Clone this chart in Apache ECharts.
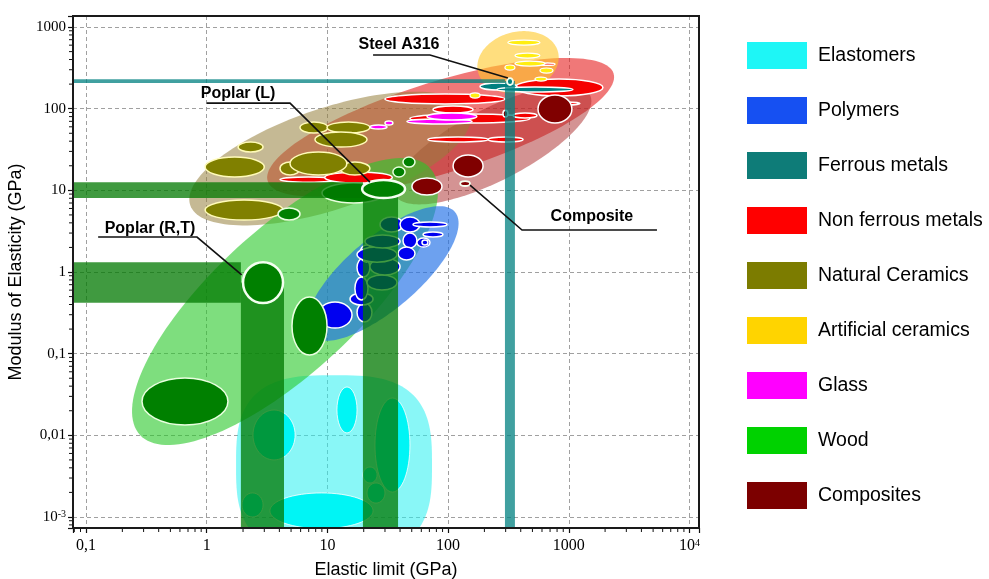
<!DOCTYPE html>
<html>
<head>
<meta charset="utf-8">
<script src="https://cdn.jsdelivr.net/npm/echarts@6/dist/echarts.min.js"></script>
<style>
  html, body { margin: 0; padding: 0; background: #fff; }
  #chart { width: 989px; height: 579px; }
</style>
</head>
<body>
<div id="chart"></div>
<script>
// ---- Axis extents and tick labels (GPa, log scales) ----
const xMin = 0.078, xMax = 12000;
const yMin = 0.000733, yMax = 1365;
const xTickExps = [-1, 0, 1, 2, 3, 4];
const xTickLabels = ['0,1', '1', '10', '100', '1000', '10{sup|4}'];
const yTickExps = [-3, -2, -1, 0, 1, 2, 3];
const yTickLabels = ['10{sup|-3}', '0,01', '0,1', '1', '10', '100', '1000'];

// ---- Material classes (legend order) ----
const classNames = ['Elastomers', 'Polymers', 'Ferrous metals', 'Non ferrous metals',
  'Natural Ceramics', 'Artificial ceramics', 'Glass', 'Wood', 'Composites'];

// ---- Class envelopes: major axis end points [x1, y1, x2, y2] and spread (decades) ----
const envelopeClass = ['Non ferrous metals', 'Composites', 'Natural Ceramics', 'Elastomers',
  'Artificial ceramics', 'Wood', 'Polymers'];
const envelopeAxis = [
  [3.2, 13.0, 2350, 270],
  [36.3, 8.76, 1499, 147],
  [0.73, 6.6, 152, 91],
  [1.75, 0.00433, 73.6, 0.00433],
  [177, 281, 815, 494],
  [0.28, 0.0101, 70.8, 18.8],
  [7.18, 0.169, 114, 5.43]
];
const envelopeSpread = [0.56, 0.44, 0.62, 1.1, 0.37, 0.88, 0.44];

// ---- Individual materials: [E min, E max, modulus min, modulus max] ----
const elastomers = [
  [3.34, 23.9, 0.00072, 0.00197],
  [24.8, 48.3, 0.00202, 0.0286],
  [12.0, 17.6, 0.0107, 0.0391],
  [2.42, 5.4, 0.0050, 0.0204],
  [1.96, 2.93, 0.0010, 0.00197],
  [19.7, 25.8, 0.00261, 0.00409],
  [21.3, 30.0, 0.00148, 0.00261]
];
const polymers = [
  [8.36, 16.0, 0.206, 0.429],
  [17.6, 23.4, 0.244, 0.417],
  [15.4, 23.9, 0.394, 0.553],
  [16.9, 21.7, 0.454, 0.869],
  [17.6, 22.5, 0.869, 1.48],
  [21.3, 37.7, 0.602, 0.919],
  [22.5, 40.0, 0.919, 1.48],
  [18.6, 23.9, 1.32, 2.14],
  [17.6, 37.7, 1.32, 2.02],
  [20.5, 40.0, 1.97, 2.84],
  [27.3, 42.3, 3.09, 4.71],
  [40.0, 58.5, 3.09, 4.71],
  [42.3, 55.2, 1.97, 3.0],
  [55.2, 70.8, 2.02, 2.61],
  [38.5, 53.2, 1.40, 2.02],
  [51.2, 98, 3.56, 4.09],
  [62, 90.7, 2.68, 3.09],
  [60.8, 68.1, 2.14, 2.46]
];
const nonFerrous = [
  [4.05, 12.0, 12.6, 14.6],
  [9.5, 34.5, 12.3, 16.8],
  [30.0, 296, 114, 151],
  [75, 161, 88.5, 108],
  [48.3, 477, 66.7, 86.0],
  [68, 215, 39.1, 45.0],
  [215, 418, 39.1, 45.0],
  [358, 1919, 143, 231],
  [740, 1238, 111, 121],
  [345, 546, 76.9, 88.5],
  [577, 769, 340, 362]
];
const naturalCeramics = [
  [4.05, 5.93, 15.4, 22.2],
  [12.7, 22.5, 15.4, 22.2],
  [4.9, 14.5, 15.4, 29.5],
  [0.97, 3.0, 14.6, 25.6],
  [1.82, 2.93, 29.5, 39.1],
  [0.97, 4.29, 4.33, 7.61],
  [5.93, 10.1, 50.3, 68.7],
  [9.93, 22.5, 50.3, 68.7],
  [7.89, 21.3, 33.9, 51.8]
];
const wood = [
  [3.9, 5.93, 4.33, 6.08],
  [9.02, 30.0, 7.0, 12.3],
  [42.3, 53.2, 19.3, 25.6],
  [34.9, 44.0, 14.6, 19.3],
  [5.09, 9.93, 0.0963, 0.494],
  [0.291, 1.50, 0.0134, 0.0504]
];
const glass = [
  [45.6, 158, 64.9, 74.7],
  [66.9, 173, 72.6, 88.5],
  [22.5, 31.2, 56.4, 63.1],
  [30, 34.9, 63.1, 70.5]
];
const ferrous = [
  [184, 372, 169, 206],
  [254, 1083, 160, 184]
];
const composites = [
  [556, 1062, 66.7, 147],
  [110, 195, 14.6, 27.1],
  [50.2, 89, 8.76, 14.2],
  [285, 313, 79, 96]
];
const artificialCeramics = [
  [313, 577, 601, 693],
  [358, 577, 417, 480],
  [358, 635, 333, 383],
  [296, 358, 297, 343],
  [577, 740, 273, 315],
  [525, 659, 218, 244],
  [152, 184, 135, 156]
];

// ---- Highlighted specimens ----
const specimenNames = ['Poplar (R,T)', 'Poplar (L)', 'Steel A316', 'Composite'];
const specimenClass = ['Wood', 'Wood', 'Ferrous metals', 'Composites'];
const specimenRange = [
  [2.0, 4.29, 0.417, 1.32],
  [19.4, 44.0, 8.05, 13.4],
  [308, 345, 195, 237],
  [126, 152, 11.3, 13.0]
];
// reading bands through the first three specimens: [x band], [y band]
const bandX = [[1.92, 4.37], [19.7, 38.5], [296, 358]];
const bandY = [[0.42, 1.32], [8.05, 12.6], [206, 230]];

// ---- Callouts: text anchor and leader path ----
const calloutText = ['Poplar (R,T)', 'Poplar (L)', 'Steel A316', 'Composite'];
const calloutAnchor = [[0.339, 3.36], [1.82, 151], [39.2, 601], [1556, 4.71]];
const calloutPath = [
  [[0.126, 2.68], [0.831, 2.68], [1.95, 0.92]],
  [[1.0, 117], [4.9, 117], [22.5, 12.6]],
  [[23.9, 454], [70.8, 454], [313, 237]],
  [[5383, 3.27], [410, 3.27], [152, 11.6]]
];

// ---- Styles ----
const legendColor = {
  'Elastomers': '#1ef6f6', 'Polymers': '#1650f2', 'Ferrous metals': '#0e7c78',
  'Non ferrous metals': '#ff0000', 'Natural Ceramics': '#7c7c00', 'Artificial ceramics': '#ffd400',
  'Glass': '#ff00ff', 'Wood': '#00d200', 'Composites': '#7c0000'
};
const memberStyle = {
  'Elastomers': { fill: '#00f5f5', stroke: 'rgba(255,255,255,0.8)', lw: 1 },
  'Polymers': { fill: '#0000f0', stroke: '#ffffff', lw: 1.5 },
  'Ferrous metals': { fill: '#008080', stroke: '#ffffff', lw: 1.5 },
  'Non ferrous metals': { fill: '#f50000', stroke: '#ffffff', lw: 1.5 },
  'Natural Ceramics': { fill: '#808000', stroke: '#fffbb8', lw: 1.5 },
  'Artificial ceramics': { fill: '#ffee10', stroke: '#ffffff', lw: 1.2 },
  'Glass': { fill: '#ff00ff', stroke: '#ffffff', lw: 1.5 },
  'Wood': { fill: '#008000', stroke: '#eaffe0', lw: 1.5 },
  'Composites': { fill: '#800000', stroke: '#ffffff', lw: 1.5 }
};
const envelopeStyle = {
  'Non ferrous metals': { fill: 'rgba(230,30,30,0.6)', n: 2 },
  'Composites': { fill: 'rgba(170,40,40,0.5)', n: 2 },
  'Natural Ceramics': { fill: 'rgba(150,128,60,0.55)', n: 2 },
  'Elastomers': { fill: 'rgba(40,240,240,0.55)', n: 3 },
  'Artificial ceramics': { fill: 'rgba(255,200,40,0.6)', n: 2 },
  'Wood': { fill: 'rgba(40,200,40,0.6)', n: 2 },
  'Polymers': { fill: 'rgba(30,110,230,0.65)', n: 2 }
};
const bandColor = { 'Wood': 'rgba(0,120,0,0.75)', 'Ferrous metals': 'rgba(0,128,128,0.75)' };
const sans = '"Liberation Sans", Arial, sans-serif';
const serif = '"Liberation Serif", "Times New Roman", serif';

// ---- Drawing helpers ----
function rangeEllipse(api, r) {
  const a = api.coord([r[0], r[2]]);
  const b = api.coord([r[1], r[3]]);
  return {
    cx: (a[0] + b[0]) / 2, cy: (a[1] + b[1]) / 2,
    rx: Math.abs(b[0] - a[0]) / 2, ry: Math.abs(b[1] - a[1]) / 2
  };
}

function envelopePoints(api, ax, spread, n) {
  const p1 = api.coord([ax[0], ax[1]]);
  const p2 = api.coord([ax[2], ax[3]]);
  const perDecade = Math.abs(api.coord([1, 1])[1] - api.coord([1, 10])[1]);
  const cx = (p1[0] + p2[0]) / 2, cy = (p1[1] + p2[1]) / 2;
  const dx = p2[0] - p1[0], dy = p2[1] - p1[1];
  const a = Math.hypot(dx, dy) / 2, b = spread * perDecade;
  const ang = Math.atan2(dy, dx), ca = Math.cos(ang), sa = Math.sin(ang);
  const pts = [];
  for (let i = 0; i < 144; i++) {
    const t = i / 144 * Math.PI * 2;
    const c = Math.cos(t), s = Math.sin(t);
    const u = a * Math.sign(c) * Math.pow(Math.abs(c), 2 / n);
    const v = b * Math.sign(s) * Math.pow(Math.abs(s), 2 / n);
    pts.push([cx + u * ca - v * sa, cy + u * sa + v * ca]);
  }
  return pts;
}

function memberSeries(name, rows) {
  const st = memberStyle[name];
  return {
    type: 'custom', name: name, z: 2, silent: true, clip: true,
    itemStyle: { color: legendColor[name] },
    encode: { x: [0, 1], y: [2, 3] },
    data: rows,
    renderItem: function (params, api) {
      return {
        type: 'ellipse',
        shape: rangeEllipse(api, rows[params.dataIndex]),
        style: { fill: st.fill, stroke: st.stroke, lineWidth: st.lw }
      };
    }
  };
}

function tickLabel(v, exps, labels) {
  const e = Math.log10(v);
  const r = Math.round(e);
  if (Math.abs(e - r) > 1e-6) return '';
  const i = exps.indexOf(r);
  return i < 0 ? '' : labels[i];
}

// minor tick positions (2..9 within each decade)
const xMinorTicks = [], yMinorTicks = [];
for (let k = -2; k <= 4; k++) for (let m = 2; m <= 9; m++) {
  const v = m * Math.pow(10, k);
  if (v > xMin && v < xMax) xMinorTicks.push([v, 1]);
}
for (let k = -4; k <= 3; k++) for (let m = 2; m <= 9; m++) {
  const v = m * Math.pow(10, k);
  if (v > yMin && v < yMax) yMinorTicks.push([1, v]);
}

const chart = echarts.init(document.getElementById('chart'), null, { renderer: 'canvas' });

const series = [];

// envelopes
series.push({
  type: 'custom', name: 'class envelopes', z: 1, silent: true, clip: true,
  encode: { x: [0, 2], y: [1, 3] },
  data: envelopeAxis,
  renderItem: function (params, api) {
    const i = params.dataIndex;
    const st = envelopeStyle[envelopeClass[i]];
    return {
      type: 'polygon',
      shape: { points: envelopePoints(api, envelopeAxis[i], envelopeSpread[i], st.n) },
      style: { fill: st.fill }
    };
  }
});

// individual materials (draw order)
series.push(memberSeries('Elastomers', elastomers));
series.push(memberSeries('Polymers', polymers));
series.push(memberSeries('Non ferrous metals', nonFerrous));
series.push(memberSeries('Natural Ceramics', naturalCeramics));
series.push(memberSeries('Wood', wood));
series.push(memberSeries('Glass', glass));
series.push(memberSeries('Ferrous metals', ferrous));
series.push(memberSeries('Composites', composites));
series.push(memberSeries('Artificial ceramics', artificialCeramics));

// reading bands
series.push({
  type: 'custom', name: 'reading bands', z: 3, silent: true, clip: true,
  encode: { x: [0, 1], y: [2, 3] },
  data: bandX.map(function (bx, i) { return [bx[0], bx[1], bandY[i][0], bandY[i][1]]; }),
  renderItem: function (params, api) {
    const i = params.dataIndex;
    const fill = bandColor[specimenClass[i]];
    const yMid = Math.sqrt(bandY[i][0] * bandY[i][1]);
    const h0 = api.coord([xMin, bandY[i][1]]), h1 = api.coord([bandX[i][0], bandY[i][0]]);
    const v0 = api.coord([bandX[i][0], yMid]), v1 = api.coord([bandX[i][1], yMin]);
    return {
      type: 'group',
      children: [
        { type: 'rect', shape: { x: h0[0], y: h0[1], width: h1[0] - h0[0], height: h1[1] - h0[1] }, style: { fill: fill } },
        { type: 'rect', shape: { x: v0[0], y: v0[1], width: v1[0] - v0[0], height: v1[1] - v0[1] }, style: { fill: fill } }
      ]
    };
  }
});

// highlighted specimens
series.push({
  type: 'custom', name: 'specimens', z: 4, silent: true, clip: true,
  encode: { x: [0, 1], y: [2, 3] },
  data: specimenRange,
  renderItem: function (params, api) {
    const i = params.dataIndex;
    const st = memberStyle[specimenClass[i]];
    return {
      type: 'ellipse',
      shape: rangeEllipse(api, specimenRange[i]),
      style: { fill: st.fill, stroke: '#f4fff0', lineWidth: i < 2 ? 2.5 : 1.8 }
    };
  }
});

// callouts
series.push({
  type: 'custom', name: 'callouts', z: 5, silent: true, clip: false,
  encode: { x: 0, y: 1 },
  data: calloutAnchor,
  renderItem: function (params, api) {
    const i = params.dataIndex;
    const t = api.coord(calloutAnchor[i]);
    const pts = calloutPath[i].map(function (p) { return api.coord(p); });
    return {
      type: 'group',
      children: [
        { type: 'polyline', shape: { points: pts }, style: { stroke: '#111', lineWidth: 1.6, fill: null } },
        { type: 'text', x: t[0], y: t[1],
          style: { text: calloutText[i], fill: '#000', font: 'bold 16px ' + sans,
                   align: 'center', verticalAlign: 'middle', textAlign: 'center', textVerticalAlign: 'middle' } }
      ]
    };
  }
});

// minor ticks on both log axes
series.push({
  type: 'custom', name: 'x minor ticks', z: 6, silent: true, clip: false,
  encode: { x: 0, y: 1 },
  data: xMinorTicks,
  renderItem: function (params, api) {
    const p = api.coord([xMinorTicks[params.dataIndex][0], yMin]);
    return { type: 'line', shape: { x1: p[0], y1: p[1] + 1, x2: p[0], y2: p[1] + 4 }, style: { stroke: '#111', lineWidth: 1 } };
  }
});
series.push({
  type: 'custom', name: 'y minor ticks', z: 6, silent: true, clip: false,
  encode: { x: 0, y: 1 },
  data: yMinorTicks,
  renderItem: function (params, api) {
    const p = api.coord([xMin, yMinorTicks[params.dataIndex][1]]);
    return { type: 'line', shape: { x1: p[0] - 1, y1: p[1], x2: p[0] - 4, y2: p[1] }, style: { stroke: '#111', lineWidth: 1 } };
  }
});

const supStyle = { fontFamily: serif, fontSize: 10, color: '#000', verticalAlign: 'top' };

const option = {
  animation: false,
  backgroundColor: '#ffffff',
  grid: {
    left: 73, top: 16, width: 626, height: 512,
    show: true, z: 10, backgroundColor: 'transparent', borderColor: '#1a1a1a', borderWidth: 2,
    containLabel: false, outerBoundsMode: 'none'
  },
  legend: {
    orient: 'vertical', left: 747, top: 42, padding: 0,
    itemWidth: 60, itemHeight: 27, itemGap: 28,
    icon: 'rect', selectedMode: false,
    itemStyle: { borderWidth: 0 },
    data: classNames.map(function (n) { return { name: n, itemStyle: { color: legendColor[n] } }; }),
    textStyle: { fontSize: 19.5, color: '#000', fontFamily: sans, padding: [0, 0, 0, 6] }
  },
  xAxis: {
    type: 'log', logBase: 10, min: xMin, max: xMax,
    axisLine: { show: false },
    axisTick: { show: true, inside: false, length: 5, lineStyle: { color: '#111', width: 1.2 } },
    splitLine: { show: true, lineStyle: { color: '#a0a0a0', width: 1, type: [4, 3] } },
    axisLabel: {
      margin: 10, color: '#000', fontFamily: serif, fontSize: 16,
      formatter: function (v) { return tickLabel(v, xTickExps, xTickLabels); },
      rich: { sup: supStyle }
    },
    name: 'Elastic limit (GPa)', nameLocation: 'middle', nameGap: 33,
    nameTextStyle: { fontSize: 18, color: '#000', fontFamily: sans }
  },
  yAxis: {
    type: 'log', logBase: 10, min: yMin, max: yMax,
    axisLine: { show: false },
    axisTick: { show: true, inside: false, length: 5, lineStyle: { color: '#111', width: 1.2 } },
    splitLine: { show: true, lineStyle: { color: '#a0a0a0', width: 1, type: [4, 3] } },
    axisLabel: {
      margin: 7, color: '#000', fontFamily: serif, fontSize: 15,
      formatter: function (v) { return tickLabel(v, yTickExps, yTickLabels); },
      rich: { sup: supStyle }
    },
    name: 'Modulus of Elasticity (GPa)', nameLocation: 'middle', nameGap: 36, nameRotate: 90,
    nameTextStyle: { fontSize: 18, color: '#000', fontFamily: sans }
  },
  series: series
};

chart.setOption(option);
</script>
</body>
</html>
